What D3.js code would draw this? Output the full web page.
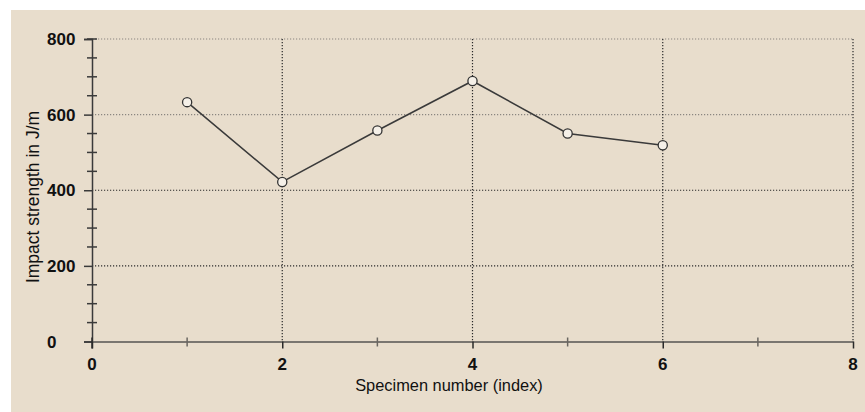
<!DOCTYPE html>
<html><head><meta charset="utf-8">
<script src="https://cdn.jsdelivr.net/npm/d3@7"></script>
<style>body{margin:0;background:#fff}svg{display:block}</style>
</head><body><svg id="c" width="865" height="412"></svg>
<script>
const specimen = [1, 2, 3, 4, 5, 6];
const impact = [633, 422, 558, 689, 550, 519];
const xTicks = [0, 2, 4, 6, 8];
const xMinor = [1, 3, 5, 7];
const yTicks = [0, 200, 400, 600, 800];
const yMinor = [50,100,150,250,300,350,450,500,550,650,700,750];
const xTitle = "Specimen number (index)";
const yTitle = "Impact strength in J/m";

const svg = d3.select("#c");
svg.append("rect").attr("x",11).attr("y",10).attr("width",854).attr("height",402).attr("fill","#e8ddcc");
const x = d3.scaleLinear().domain([0,8]).range([92,853]);
const y = d3.scaleLinear().domain([0,800]).range([341.5,39]);
const font = "Liberation Sans, Arial, sans-serif";

// grid
const g = svg.append("g");
g.selectAll(".gy").data(yTicks.filter(d=>d>0)).join("line")
  .attr("x1",x(0)).attr("x2",x(8)).attr("y1",d=>y(d)).attr("y2",d=>y(d))
  .attr("stroke",d=>d>=600?"#8a8680":"#2a2a2a").attr("stroke-width",1.2).attr("stroke-dasharray","1.2,1.8");
g.selectAll(".gx").data(xTicks.filter(d=>d>0)).join("line")
  .attr("x1",d=>x(d)).attr("x2",d=>x(d)).attr("y1",y(800)).attr("y2",y(0))
  .attr("stroke","#2a2a2a").attr("stroke-width",1.2).attr("stroke-dasharray","1.2,1.8");

// axes
const yAxis = svg.append("g").attr("transform",`translate(${x(0)},0)`)
  .call(d3.axisLeft(y).tickValues(yTicks).tickSize(8).tickFormat(""));
yAxis.select(".domain").attr("stroke","#3a3a3a").attr("stroke-width",1.5);
yAxis.selectAll(".tick line").attr("stroke","#3a3a3a").attr("stroke-width",1.5);
svg.append("g").selectAll("line").data(yMinor).join("line")
  .attr("x1",x(0)-5).attr("x2",x(0)+5).attr("y1",d=>y(d)).attr("y2",d=>y(d))
  .attr("stroke","#3a3a3a").attr("stroke-width",1.5);
svg.append("line").attr("x1",x(0)-5).attr("x2",x(0)+5).attr("y1",y(800)).attr("y2",y(800))
  .attr("stroke","#3a3a3a").attr("stroke-width",1.5);

const xAxis = svg.append("g").attr("transform",`translate(0,${y(0)})`)
  .call(d3.axisBottom(x).tickValues(xTicks).tickSize(7).tickSizeOuter(0).tickFormat(""));
xAxis.select(".domain").attr("stroke","#7a7670").attr("stroke-width",2);
xAxis.selectAll(".tick line").attr("stroke","#2a2a2a").attr("stroke-width",1.5);
svg.append("line").attr("x1",x(0)).attr("x2",x(0)).attr("y1",y(0)-4).attr("y2",y(0)+7)
  .attr("stroke","#2a2a2a").attr("stroke-width",1.5);
svg.append("g").selectAll("line").data(xMinor).join("line")
  .attr("x1",d=>x(d)).attr("x2",d=>x(d)).attr("y1",y(0)-4).attr("y2",y(0)+5)
  .attr("stroke","#6a6660").attr("stroke-width",1.5);

// tick labels
svg.append("g").selectAll("text").data(yTicks).join("text")
  .attr("x",47).attr("y",d=>y(d)).attr("dy","0.36em")
  .attr("font-family",font).attr("font-weight","bold").attr("font-size",17).attr("fill","#111")
  .text(d=>d);
svg.append("g").selectAll("text").data(xTicks).join("text")
  .attr("x",d=>x(d)).attr("y",369.5).attr("text-anchor","middle")
  .attr("font-family",font).attr("font-weight","bold").attr("font-size",17).attr("fill","#111")
  .text(d=>d);

// titles
svg.append("text").attr("x",449).attr("y",391).attr("text-anchor","middle")
  .attr("font-family",font).attr("font-size",16.4).attr("fill","#111").text(xTitle);
svg.append("text").attr("transform","translate(39,197) rotate(-90)").attr("text-anchor","middle")
  .attr("font-family",font).attr("font-size",17.5).attr("fill","#111").text(yTitle);

// data
const pts = specimen.map((s,i)=>[s,impact[i]]);
svg.append("path").datum(pts)
  .attr("d",d3.line().x(d=>x(d[0])).y(d=>y(d[1])))
  .attr("fill","none").attr("stroke","#3a3a3a").attr("stroke-width",1.5);
svg.append("g").selectAll("circle").data(pts).join("circle")
  .attr("cx",d=>x(d[0])).attr("cy",d=>y(d[1])).attr("r",4.6)
  .attr("fill","#f5f0e8").attr("stroke","#333").attr("stroke-width",1.3);
</script></body></html>
